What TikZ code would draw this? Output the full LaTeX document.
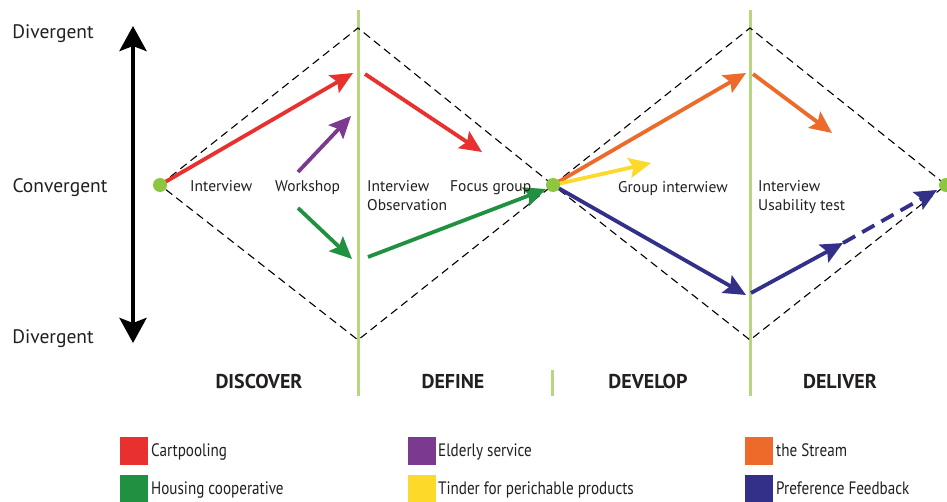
\documentclass[tikz,border=0pt]{standalone}
\usepackage{fontspec}
\setmainfont{PT Sans}
\newfontfamily\narrowfont[FakeStretch=0.84]{PT Sans}
\usetikzlibrary{arrows.meta}
\definecolor{cred}{HTML}{E8312F}
\definecolor{cpurple}{HTML}{7B3A8F}
\definecolor{cgreen}{HTML}{1F9140}
\definecolor{corange}{HTML}{EE6A2B}
\definecolor{cyellow}{HTML}{FDD92A}
\definecolor{cnavy}{HTML}{33308A}
\definecolor{cline}{HTML}{B8D680}
\definecolor{cdot}{HTML}{8DC63F}
\definecolor{ctext}{HTML}{231F20}
\tikzset{
  phase/.style={draw=cline, line width=3pt},
  diam/.style={draw=black, line width=1.1pt, dash pattern=on 8pt off 5pt},
  flow/.style={line width=3.8pt, -{Stealth[length=22pt,width=20pt,inset=4pt]}},
  dotnode/.style={circle, fill=cdot, minimum size=14pt, inner sep=0pt},
  axis/.style={text=ctext, font=\fontsize{19.5}{23}\selectfont, anchor=base, inner sep=0pt},
  lbl/.style={text=ctext, font=\fontsize{15.5}{19}\selectfont, align=left, inner sep=0pt, anchor=base west},
  head/.style={text=ctext, font=\bfseries\fontsize{20}{24}\selectfont, inner sep=0pt, anchor=base},
  key/.style={minimum width=28pt, minimum height=28pt, inner sep=0pt},
  keytxt/.style={text=ctext, font=\narrowfont\fontsize{18}{21}\selectfont, anchor=base west, inner sep=0pt},
}
\begin{document}
\begin{tikzpicture}[x=1pt,y=-1pt]
\useasboundingbox[fill=white] (0,0) rectangle (947,502);
% phase lines
\coordinate (l1t) at (358,10); \coordinate (l1b) at (358,396);
\coordinate (l2t) at (750,10); \coordinate (l2b) at (750,396);
\coordinate (l3t) at (552,370); \coordinate (l3b) at (552,396);
\draw[phase] (l1t) -- (l1b);
\draw[phase] (l2t) -- (l2b);
\draw[phase] (l3t) -- (l3b);
% diamonds
\coordinate (d1l) at (160,185); \coordinate (d1t) at (358,28);
\coordinate (d1b) at (358,340); \coordinate (d1r) at (553,185);
\coordinate (d2t) at (750,28); \coordinate (d2b) at (750,340);
\coordinate (d2r) at (946,185);
\draw[diam] (d1l) -- (d1t) -- (d1r) -- (d1b) -- cycle;
\draw[diam] (d1r) -- (d2t) -- (d2r) -- (d2b) -- cycle;
% vertical axis arrow
\coordinate (axt) at (133,26); \coordinate (axb) at (133,343);
\draw[line width=4.5pt, {Stealth[length=25pt,width=27pt,inset=5pt]}-{Stealth[length=25pt,width=27pt,inset=5pt]}] (axt) -- (axb);
\node[axis] (tdiv) at (53,39) {Divergent};
\node[axis] (tconv) at (60,193) {Convergent};
\node[axis] (bdiv) at (53,344) {Divergent};
% arrow points
\coordinate (r1e) at (353,73); \coordinate (r2s) at (365,74); \coordinate (r2e) at (482,152);
\coordinate (p1s) at (298,172); \coordinate (p1e) at (351,116);
\coordinate (g1s) at (298,208); \coordinate (g1e) at (352,259);
\coordinate (g2s) at (368,257); \coordinate (g2e) at (546,189);
\coordinate (o1e) at (746,73); \coordinate (o2s) at (753,74); \coordinate (o2e) at (832,133);
\coordinate (y1e) at (651,163);
\coordinate (n1e) at (746,295); \coordinate (n2s) at (751,293); \coordinate (n2m) at (843,243);
\coordinate (n2e) at (937,190);
% arrows
\draw[flow, cred] (d1l) -- (r1e);
\draw[flow, cred] (r2s) -- (r2e);
\draw[flow, cpurple] (p1s) -- (p1e);
\draw[flow, cgreen] (g1s) -- (g1e);
\draw[flow, cgreen] (g2s) -- (g2e);
\draw[flow, corange] (d1r) -- (o1e);
\draw[flow, corange] (o2s) -- (o2e);
\draw[flow, cyellow] (d1r) -- (y1e);
\draw[flow, cnavy] (d1r) -- (n1e);
\draw[flow, cnavy] (n2s) -- (n2m);
\draw[flow, cnavy, dash pattern=on 14pt off 8pt] (n2m) -- (n2e);
% dots
\node[dotnode] (dot1) at (d1l) {};
\node[dotnode] (dot2) at (d1r) {};
\node[dotnode] (dot3) at (d2r) {};
% labels
\node[lbl] (tint1) at (190,192) {Interview};
\node[lbl] (twork) at (275,192) {Workshop};
\node[lbl] (tobs1) at (367,192) {Interview};
\node[lbl] (tobs2) at (367,211) {Observation};
\node[lbl] (tfocus) at (450,192) {Focus group};
\node[lbl] (tgroup) at (618,193) {Group interwiew};
\node[lbl] (tusab1) at (758,192) {Interview};
\node[lbl] (tusab2) at (758,211) {Usability test};
% phases
\node[head] (hdisc) at (259,388) {DISCOVER};
\node[head] (hdef) at (453,388) {DEFINE};
\node[head] (hdev) at (648,388) {DEVELOP};
\node[head] (hdel) at (840,388) {DELIVER};
% legend
\node[key, fill=cred] (k1) at (134,451) {};
\node[key, fill=cgreen] (k2) at (134,489) {};
\node[key, fill=cpurple] (k3) at (422,451) {};
\node[key, fill=cyellow] (k4) at (422,489) {};
\node[key, fill=corange] (k5) at (759,451) {};
\node[key, fill=cnavy] (k6) at (759,489) {};
\node[keytxt] (kt1) at (151,456) {Cartpooling};
\node[keytxt] (kt2) at (151,494) {Housing cooperative};
\node[keytxt] (kt3) at (438,456) {Elderly service};
\node[keytxt] (kt4) at (438,494) {Tinder for perichable products};
\node[keytxt] (kt5) at (776,456) {the Stream};
\node[keytxt] (kt6) at (776,494) {Preference Feedback};
\end{tikzpicture}
\end{document}
